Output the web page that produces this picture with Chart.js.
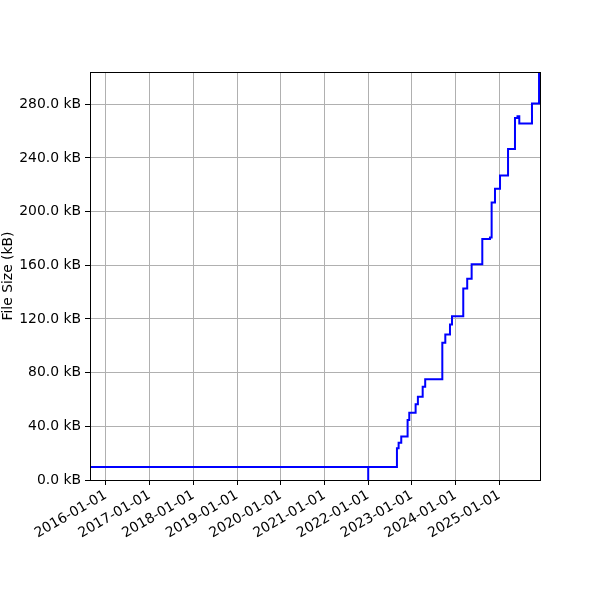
<!DOCTYPE html>
<html>
<head>
<meta charset="utf-8">
<script src="https://cdn.jsdelivr.net/npm/chart.js@4"></script>
<style>
    html, body { margin: 0; padding: 0; background: #fff; }
    #div_grafico { width: 600px; height: 600px; }
</style>
</head>
<body>
<div id="div_grafico">
    <canvas id="grafico_tamanho"></canvas>
</div>
<script>
// datas dos commits e tamanho do arquivo (kB)
var datas = [
    '2015-08-22', '2022-01-01', '2022-01-01', '2022-01-01',
    '2022-08-29', '2022-09-12', '2022-10-04', '2022-11-26', '2022-12-10',
    '2023-02-01', '2023-02-20', '2023-04-01', '2023-04-22',
    '2023-09-12', '2023-10-07', '2023-11-15', '2023-12-02',
    '2024-03-05', '2024-04-07', '2024-05-14', '2024-08-11',
    '2024-10-14', '2024-10-28', '2024-11-25',
    '2025-01-06', '2025-03-14', '2025-05-11', '2025-06-01', '2025-06-16',
    '2025-09-30', '2025-11-28', '2025-12-06'
];
var tamanhos = [
    9.7, 9.7, 0, 9.7,
    23.6, 27.8, 32.5, 44.7, 50.1,
    56.4, 62.0, 69.5, 75.0,
    102.2, 108.5, 115.9, 122.1,
    142.7, 150.0, 160.8, 179.5,
    180.7, 206.8, 217.0,
    226.9, 246.7, 269.8, 271.0, 265.6,
    280.5, 320, 320
];
var anos_ticks = [2016, 2017, 2018, 2019, 2020, 2021, 2022, 2023, 2024, 2025];
var y_ticks = [0, 40, 80, 120, 160, 200, 240, 280];

var x_min = Date.parse('2015-08-22');
var x_max = Date.parse('2025-12-06');
var y_max = 304;

var fonte = { family: 'DejaVu Sans', size: 13.9 };

var pontos = [];
for (var i = 0; i < datas.length; i++) {
    pontos.push({ x: Date.parse(datas[i]), y: tamanhos[i] });
}

function formatar_data(ms) {
    var d = new Date(ms);
    var m = String(d.getUTCMonth() + 1).padStart(2, '0');
    var dia = String(d.getUTCDate()).padStart(2, '0');
    return d.getUTCFullYear() + '-' + m + '-' + dia;
}

// caixa preta em volta da area do grafico
var moldura = {
    id: 'moldura',
    afterDatasetsDraw(chart) {
        var a = chart.chartArea;
        var ctx = chart.ctx;
        ctx.save();
        ctx.strokeStyle = '#000';
        ctx.lineWidth = 1;
        ctx.strokeRect(Math.round(a.left) + 0.5, Math.round(a.top) + 0.5,
            Math.round(a.right - a.left), Math.round(a.bottom - a.top));
        ctx.restore();
    }
};

var ctx = document.getElementById('grafico_tamanho');

new Chart(ctx, {
    type: 'line',
    data: {
        datasets: [{
            label: 'File Size',
            data: pontos,
            stepped: 'before', // horizontal primeiro, depois vertical
            borderColor: '#0000ff',
            borderWidth: 2,
            pointRadius: 0,
            fill: false
        }]
    },
    options: {
        responsive: true,
        maintainAspectRatio: false,
        animation: false,
        layout: { padding: { top: 72, right: 60, left: 0, bottom: 0 } },
        plugins: {
            legend: { display: false },
            tooltip: { enabled: false }
        },
        scales: {
            x: {
                type: 'linear',
                min: x_min,
                max: x_max,
                afterBuildTicks: (scale) => {
                    scale.ticks = anos_ticks.map(a => ({ value: Date.UTC(a, 0, 1) }));
                },
                afterFit: (scale) => { scale.height = 120; },
                grid: { color: '#b0b0b0', lineWidth: 1, tickColor: '#000', tickLength: 5 },
                border: { color: '#000' },
                ticks: {
                    color: '#000',
                    font: fonte,
                    minRotation: 30,
                    maxRotation: 30,
                    autoSkip: false,
                    padding: 2,
                    callback: (v) => formatar_data(v)
                }
            },
            y: {
                min: 0,
                max: y_max,
                afterBuildTicks: (scale) => {
                    scale.ticks = y_ticks.map(v => ({ value: v }));
                },
                afterFit: (scale) => { scale.width = 90; },
                grid: { color: '#b0b0b0', lineWidth: 1, tickColor: '#000', tickLength: 5 },
                border: { color: '#000' },
                title: {
                    display: true,
                    text: 'File Size (kB)',
                    color: '#000',
                    font: fonte,
                    padding: 0
                },
                ticks: {
                    color: '#000',
                    font: fonte,
                    padding: 4,
                    callback: (v) => v.toFixed(1) + ' kB'
                }
            }
        }
    },
    plugins: [moldura]
});
</script>
</body>
</html>
